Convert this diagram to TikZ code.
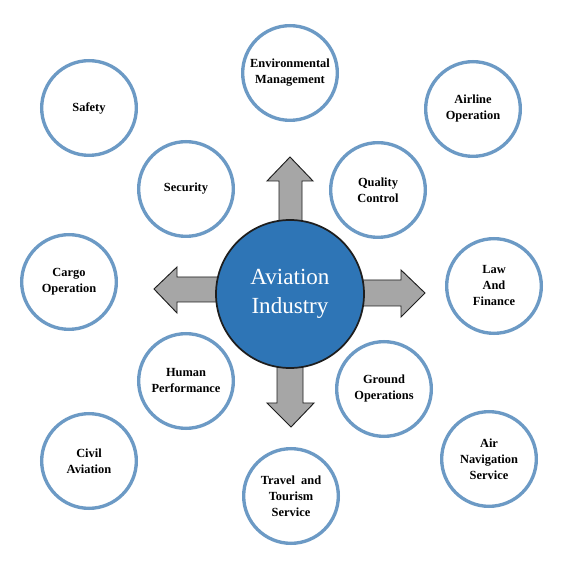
\documentclass[tikz,border=0pt]{standalone}
\usepackage{fontspec}
\setmainfont{Liberation Serif}
\definecolor{ringblue}{RGB}{108,154,197}
\definecolor{hubblue}{RGB}{46,117,182}
\definecolor{arrowgray}{RGB}{166,166,166}
\definecolor{darkline}{RGB}{30,30,30}
\begin{document}
\begin{tikzpicture}[x=0.75pt,y=-0.75pt,
  topic/.style={circle,draw=ringblue,line width=2.5pt,fill=white,inner sep=0pt,
    minimum size=71pt,align=center,font=\fontsize{9.3}{12}\selectfont\bfseries},
  hub/.style={circle,draw=darkline,line width=1.3pt,fill=hubblue,inner sep=0pt,
    minimum size=111pt,align=center,text=white,font=\fontsize{17.3}{21.8}\selectfont},
  blockarrow/.style={draw=darkline,line width=0.7pt,fill=arrowgray,line join=miter}]
\useasboundingbox (0,0) rectangle (571,566);
\fill[white] (0,0) rectangle (571,566);
% block arrows (drawn beneath the hub)
\draw[blockarrow] (279,240) -- (279,181) -- (267,181) -- (290,157) -- (313,181) -- (302,181) -- (302,240) -- cycle;
\draw[blockarrow] (240,277) -- (177,277) -- (177,267) -- (154,289) -- (177,313) -- (177,302) -- (240,302) -- cycle;
\draw[blockarrow] (340,280) -- (401,280) -- (401,270) -- (425,293) -- (401,317) -- (401,306) -- (340,306) -- cycle;
\draw[blockarrow] (277,350) -- (277,403) -- (267,403) -- (291,427) -- (314,403) -- (303,403) -- (303,350) -- cycle;
% hub
\node[hub] (hub) at (290,294) {Aviation\\Industry};
% topics
\node[topic] (env) at (290,73) {Environmental\\Management};
\node[topic] (airline) at (473,109) {Airline\\Operation};
\node[topic] (safety) at (89,108) {Safety};
\node[topic] (security) at (186,189) {Security};
\node[topic] (quality) at (378,190) {Quality\\Control};
\node[topic] (cargo) at (69,282) {Cargo\\Operation};
\node[topic] (law) at (494,286) {Law\\And\\Finance};
\node[topic] (human) at (186,381) {Human\\Performance};
\node[topic] (ground) at (384,389) {Ground\\Operations};
\node[topic] (civil) at (89,461) {Civil\\Aviation};
\node[topic] (airnav) at (489,459) {Air\\Navigation\\Service};
\node[topic] (travel) at (291,496) {Travel\ \ and\\Tourism\\Service};
\end{tikzpicture}
\end{document}
